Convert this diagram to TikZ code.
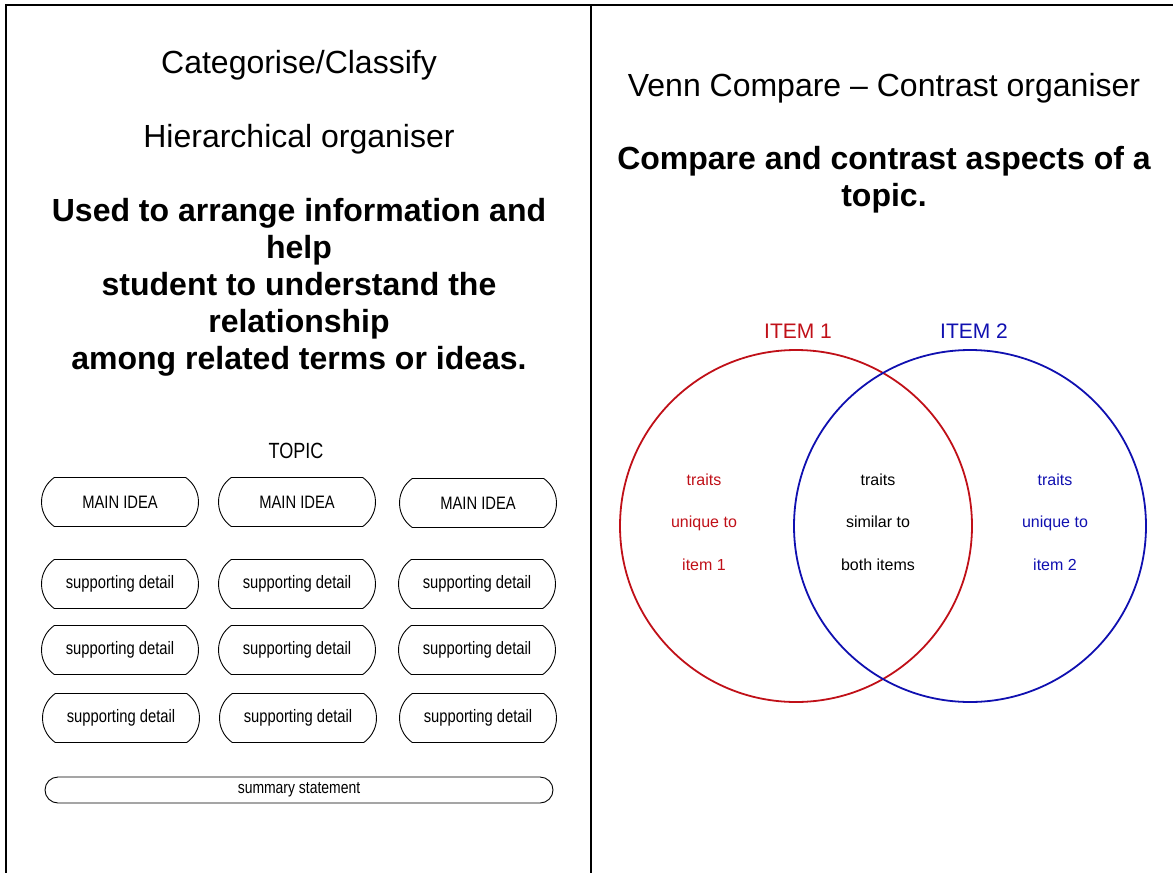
\documentclass[tikz,border=0pt]{standalone}
\usepackage{fontspec}
\setmainfont{Liberation Sans}
\newfontfamily\narrowfont[FakeStretch=0.82]{Liberation Sans}
\usetikzlibrary{shapes.misc}
\definecolor{vennred}{RGB}{192,16,24}
\definecolor{vennblue}{RGB}{16,16,176}
\tikzset{
	headtext/.style={anchor=base, align=center, font=\fontsize{32}{37}\selectfont},
	ideabox/.style={draw, line width=0.9pt, rounded rectangle, rounded rectangle arc length=110,
		minimum width=157, minimum height=49, inner sep=0pt, font=\narrowfont\fontsize{18}{20}\selectfont},
	vennring/.style={circle, line width=1.8pt, minimum size=352, inner sep=0pt},
	venntext/.style={align=center, font=\fontsize{16}{42.5}\selectfont}
}
\begin{document}
\begin{tikzpicture}[x=1pt, y=-1pt]
\useasboundingbox (0,0) rectangle (1173,873);
% Rahmen:
	\draw [line width=2pt] (5,5) -- (1173,5);
	\draw [line width=2pt] (6,5) -- (6,873);
	\draw [line width=1.5pt] (591,5) -- (591,873);
% linke Spalte:
	\node [headtext] (cat) at (299,73) {Categorise/Classify};
	\node [headtext] (hier) at (299,147) {Hierarchical organiser};
	% base = letzte Zeile
	\node [headtext, font=\bfseries\fontsize{32}{37}\selectfont] (usedto) at (299,369)
		{Used to arrange information and\\ help\\ student to understand the\\ relationship\\ among related terms or ideas.};
	% Kaesten
	\node [anchor=base, font=\narrowfont\fontsize{22}{24}\selectfont] (topic) at (296,458) {TOPIC};
	\node [ideabox] (main1) at (120,502) {MAIN IDEA};
	\node [ideabox] (main2) at (297,502) {MAIN IDEA};
	\node [ideabox] (main3) at (478,503) {MAIN IDEA};
	\node [ideabox] (detail11) at (120,584) {supporting detail};
	\node [ideabox] (detail12) at (297,584) {supporting detail};
	\node [ideabox] (detail13) at (477,584) {supporting detail};
	\node [ideabox] (detail21) at (120,650) {supporting detail};
	\node [ideabox] (detail22) at (297,650) {supporting detail};
	\node [ideabox] (detail23) at (477,650) {supporting detail};
	\node [ideabox] (detail31) at (121,718) {supporting detail};
	\node [ideabox] (detail32) at (298,718) {supporting detail};
	\node [ideabox] (detail33) at (478,718) {supporting detail};
	\node [ideabox, rounded rectangle arc length=180, minimum width=508, minimum height=26,
		font=\narrowfont\fontsize{17}{19}\selectfont] (summary) at (299,790) {summary statement};
% rechte Spalte:
	\node [headtext] (venn) at (884,96) {Venn Compare -- Contrast organiser};
	\node [headtext, font=\bfseries\fontsize{32}{37}\selectfont] (compare) at (884,206)
		{Compare and contrast aspects of a\\ topic.};
	% Kreise
	\node [vennring, draw=vennred] (ring1) at (796,526) {};
	\node [vennring, draw=vennblue] (ring2) at (970,526) {};
	\node [font=\fontsize{21}{24}\selectfont, text=vennred] (item1) at (798,331) {ITEM 1};
	\node [font=\fontsize{21}{24}\selectfont, text=vennblue] (item2) at (974,331) {ITEM 2};
	\node [venntext, text=vennred] (unique1) at (704,522) {traits\\ unique to\\ item 1};
	\node [venntext] (similar) at (878,522) {traits\\ similar to\\ both items};
	\node [venntext, text=vennblue] (unique2) at (1055,522) {traits\\ unique to\\ item 2};
\end{tikzpicture}
\end{document}
